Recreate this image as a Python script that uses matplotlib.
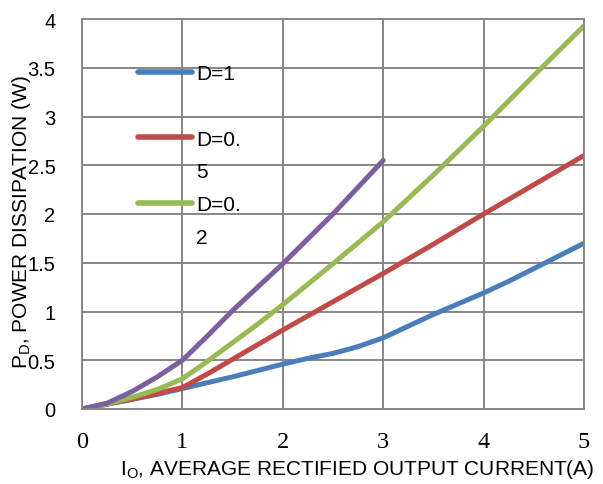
import matplotlib.pyplot as plt
from matplotlib.lines import Line2D

## 读图得到的数据
x_d1 = [0, 0.25, 0.5, 0.75, 1, 1.5, 2, 2.25, 2.5, 2.75, 3, 3.25, 3.5, 3.75, 4, 4.25, 4.5, 4.75, 5]
y_d1 = [0, 0.05, 0.10, 0.15, 0.21, 0.33, 0.46, 0.52, 0.57, 0.64, 0.73, 0.85, 0.97, 1.08, 1.19, 1.31, 1.44, 1.57, 1.70]

x_d05 = [0, 0.25, 0.5, 0.75, 1, 1.25, 1.5, 1.75, 2, 2.5, 3, 3.5, 4, 4.5, 5]
y_d05 = [0, 0.05, 0.10, 0.16, 0.22, 0.36, 0.51, 0.66, 0.81, 1.10, 1.39, 1.69, 2.00, 2.30, 2.60]

x_d02 = [0, 0.25, 0.5, 0.75, 1, 1.25, 1.5, 1.75, 2, 2.5, 3, 3.5, 4, 4.5, 5]
y_d02 = [0, 0.05, 0.12, 0.20, 0.31, 0.49, 0.68, 0.87, 1.07, 1.49, 1.92, 2.40, 2.90, 3.42, 3.93]

x_dc = [0, 0.25, 0.5, 0.75, 1, 1.25, 1.5, 2, 2.5, 3]
y_dc = [0, 0.06, 0.18, 0.33, 0.50, 0.75, 1.01, 1.49, 2.00, 2.55]

x_ticks = [0, 1, 2, 3, 4, 5]
y_ticks = [0, 0.5, 1, 1.5, 2, 2.5, 3, 3.5, 4]
y_ticklabels = ['0', '0.5', '1', '1.5', '2', '2.5', '3', '3.5', '4']

blue = '#4a7ebb'
red = '#be4b48'
green = '#98b954'
purple = '#7d5fa0'
grey = '#868686'

fig = plt.figure(figsize=(6.03, 4.85), dpi=100)
ax = fig.add_axes([82/603, 1-410/485, 502/603, 390/485])

lw = 3.6
kw = dict(lw=lw, solid_capstyle='round', solid_joinstyle='round')
l1, = ax.plot(x_d1, y_d1, color=blue, **kw)
l2, = ax.plot(x_d05, y_d05, color=red, **kw)
l3, = ax.plot(x_d02, y_d02, color=green, **kw)
l4, = ax.plot(x_dc, y_dc, color=purple, **kw)

ax.set_xlim(0, 5)
ax.set_ylim(0, 4)
ax.set_xticks(x_ticks)
ax.set_yticks(y_ticks)
ax.set_yticklabels(y_ticklabels, fontfamily='Liberation Sans', fontsize=14.5)
ax.set_xticklabels([str(t) for t in x_ticks], fontfamily='Liberation Serif', fontsize=17.5)
ax.tick_params(axis='both', length=0)
ax.tick_params(axis='y', pad=19)
ax.tick_params(axis='x', pad=15.5)
ax.grid(True, color=grey, lw=1.4)
ax.set_axisbelow(True)
for s in ax.spines.values():
    s.set_color(grey)
    s.set_linewidth(1.4)

## 图例 (文字折行的效果)
blank = Line2D([], [], color='none')
handles = [l1, blank, l2, blank, l3, blank]
labels = ['D=1', ' ', 'D=0.', '5', 'D=0.', '2']
leg = ax.legend(handles, labels, loc='upper left',
                bbox_to_anchor=((138-82)/502, (410-65)/390),
                frameon=False, borderpad=0, borderaxespad=0,
                handlelength=2.6, handletextpad=0.2, labelspacing=0.66,
                prop={'family': 'Liberation Sans', 'size': 15})
for h in leg.legend_handles:
    h.set_linewidth(4)
    h.set_solid_capstyle('round')

fig.text(0.592, 0.031, r'I$_\mathregular{O}$, AVERAGE RECTIFIED OUTPUT CURRENT(A)',
         ha='center', va='center', fontfamily='Liberation Sans', fontsize=15)
fig.text(0.036, 0.543, r'P$_\mathregular{D}$, POWER DISSIPATION (W)',
         ha='center', va='center', rotation=90, fontfamily='Liberation Sans', fontsize=15)

fig.savefig('out.png', dpi=100)
